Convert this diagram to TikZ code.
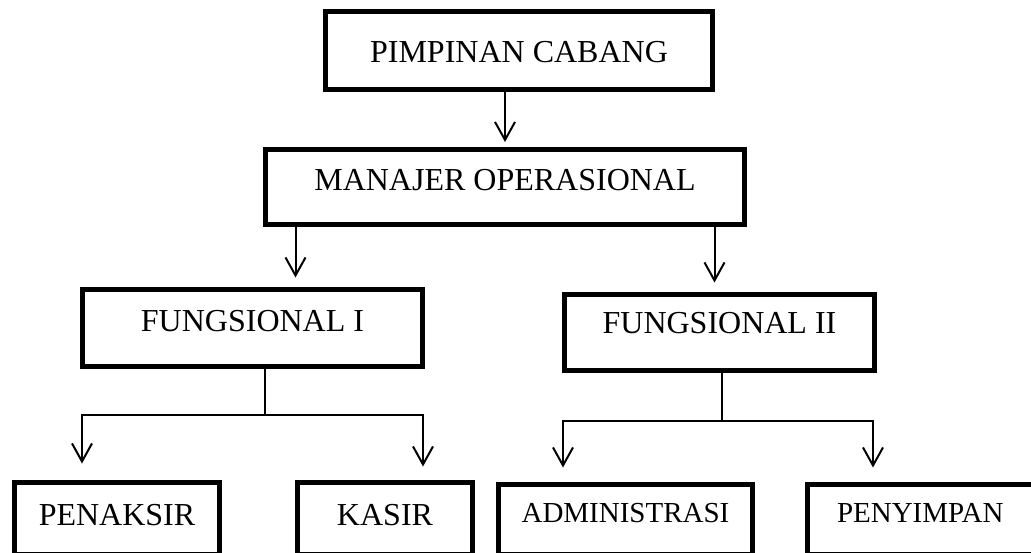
\documentclass[tikz,border=0pt]{standalone}
\usepackage{fontspec}
\setmainfont{Liberation Serif}
\usetikzlibrary{arrows.meta}
\tikzset{>={Straight Barb[length=9pt,width=10pt]},
  box/.style={draw, line width=2.5pt, inner sep=0pt, font=\fontsize{16}{18}\selectfont},
  small/.style={font=\fontsize{14.5}{16}\selectfont},
  link/.style={line width=1pt}}

\begin{document}
\begin{tikzpicture}[x=0.5pt,y=-0.5pt]
    \useasboundingbox (0,0) rectangle (1031,552);
    \clip (0,0) rectangle (1031,552);
    \node[box, minimum width=193.5pt, text height=25.25pt, text depth=13.75pt] (pim) at (519,50.5) {PIMPINAN CABANG};
    \node[box, minimum width=239.5pt, text height=20.25pt, text depth=17.25pt] (man) at (505,187) {MANAJER OPERASIONAL};
    \node[box, minimum width=170pt, text height=20.75pt, text depth=17.75pt] (f1) at (252.5,328) {FUNGSIONAL I};
    \node[box, minimum width=155pt, text height=19.25pt, text depth=18.75pt] (f2) at (719.5,332.5) {FUNGSIONAL II};
    \node[box, minimum width=102.5pt, text height=21.25pt, text depth=14.5pt] (pen) at (117,518.25) {PENAKSIR};
    \node[box, minimum width=87.5pt, text height=21.25pt, text depth=14.5pt] (kas) at (385,518.25) {KASIR};
    \node[box, small, minimum width=127pt, text height=18.75pt, text depth=16pt] (adm) at (625.5,519.25) {ADMINISTRASI};
    \node[box, small, minimum width=112.75pt, text height=18.75pt, text depth=16pt] (pny) at (920.25,519.25) {PENYIMPAN};
    \coordinate (j1) at (265,415);
    \coordinate (l1) at (82,415);
    \coordinate (l2) at (423,415);
    \coordinate (j2) at (722,421);
    \coordinate (r1) at (563,421);
    \coordinate (r2) at (873,421);
    \draw[link, ->, shorten >=2.5pt] (pim.south -| man.north) -- (man.north);
    \draw[link, ->, shorten >=4.75pt] ([xshift=16.25pt]man.south west) -- ([xshift=16.25pt]man.south west |- f1.north);
    \draw[link, ->, shorten >=4.75pt] ([xshift=-16.25pt]man.south east) -- ([xshift=-16.25pt]man.south east |- f2.north);
    \draw[link] (j1 |- f1.south) -- (j1);
    \draw[link, <->, shorten <=8.25pt, shorten >=6.75pt] (l1 |- pen.north) -- (l1) -- (l2) -- (l2 |- kas.north);
    \draw[link] (j2 |- f2.south) -- (j2);
    \draw[link, <->, shorten <=7.25pt, shorten >=7.25pt] (r1 |- adm.north) -- (r1) -- (r2) -- (r2 |- pny.north);
\end{tikzpicture}
\end{document}
